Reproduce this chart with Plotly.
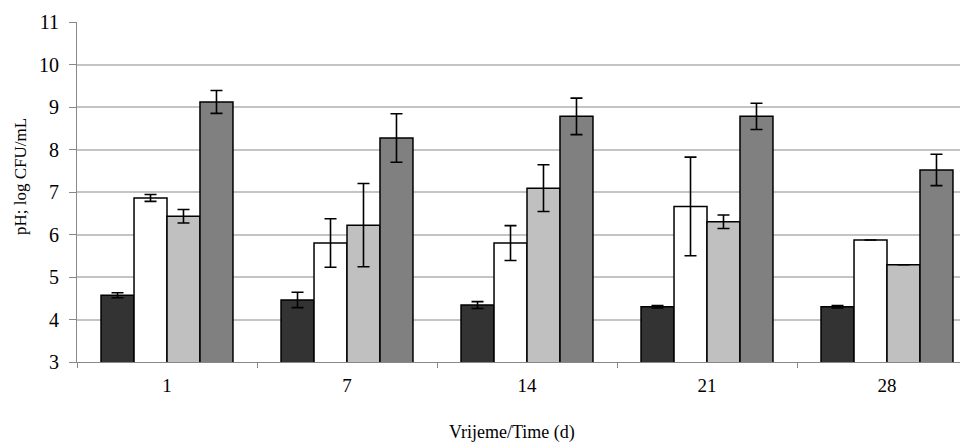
import plotly.graph_objects as go

days = ["1", "7", "14", "21", "28"]
series_names = ["pH", "Series 2", "Series 3", "Series 4"]
s1 = [4.57, 4.46, 4.34, 4.30, 4.30]
s1_err = [0.06, 0.18, 0.08, 0.03, 0.03]
s2 = [6.86, 5.80, 5.80, 6.66, 5.87]
s2_err = [0.08, 0.57, 0.41, 1.16, 0.0]
s3 = [6.43, 6.22, 7.09, 6.30, 5.29]
s3_err = [0.16, 0.98, 0.55, 0.16, 0.0]
s4 = [9.12, 8.27, 8.78, 8.78, 7.52]
s4_err = [0.27, 0.57, 0.43, 0.31, 0.37]
colors = ["#333333", "#ffffff", "#c0c0c0", "#808080"]
y_ticks = [3, 4, 5, 6, 7, 8, 9, 10, 11]

fig = go.Figure()
for name, vals, errs, col in zip(series_names, [s1, s2, s3, s4],
                                  [s1_err, s2_err, s3_err, s4_err], colors):
    fig.add_trace(go.Bar(
        x=days, y=vals, name=name,
        marker=dict(color=col, line=dict(color="#000000", width=1.5)),
        error_y=dict(type="data", array=errs, visible=True,
                     color="#000000", thickness=1.6, width=6),
    ))

# page body has an 8px default margin, so the figure is 960x435
W, H = 960, 435
L, T, B = 69, 14, 81
plot_w = W - L
plot_h = H - T - B

font_family = "Liberation Serif, Times New Roman, serif"
fig.update_layout(
    width=W, height=H,
    margin=dict(l=L, r=0, t=T, b=B, autoexpand=False),
    paper_bgcolor="#ffffff", plot_bgcolor="#ffffff",
    barmode="group", bargap=0.267, bargroupgap=0,
    showlegend=False,
    font=dict(family=font_family, size=18, color="#000000"),
    xaxis=dict(
        type="category", range=[-0.5, 4.45],
        showline=True, linecolor="#888888", linewidth=1.2,
        ticks="outside", tickson="boundaries", ticklen=5,
        tickcolor="#888888", tickwidth=1,
        showgrid=False, zeroline=False,
        ticklabelstandoff=6,
        tickfont=dict(family=font_family, size=19),
    ),
    yaxis=dict(
        range=[3, 11], tickvals=y_ticks,
        showline=True, linecolor="#888888", linewidth=1.2,
        ticks="outside", ticklen=7, tickcolor="#888888", tickwidth=1,
        showgrid=True, gridcolor="#c4c4c4", gridwidth=1.5,
        zeroline=False,
        ticklabelstandoff=6,
        tickfont=dict(family=font_family, size=20),
    ),
    annotations=[
        dict(text="Vrijeme/Time (d)", xref="paper", yref="paper",
             x=(512 - 8 - L) / plot_w, y=(354 - (432 - 8)) / plot_h,
             xanchor="center", yanchor="middle", showarrow=False,
             font=dict(family=font_family, size=18)),
        dict(text="pH; log CFU/mL", xref="paper", yref="paper",
             x=(20 - 8 - L) / plot_w, y=(354 - (177 - 8)) / plot_h,
             xanchor="center", yanchor="middle", textangle=-90,
             showarrow=False, font=dict(family=font_family, size=17)),
    ],
)

fig.write_html("out.html")
